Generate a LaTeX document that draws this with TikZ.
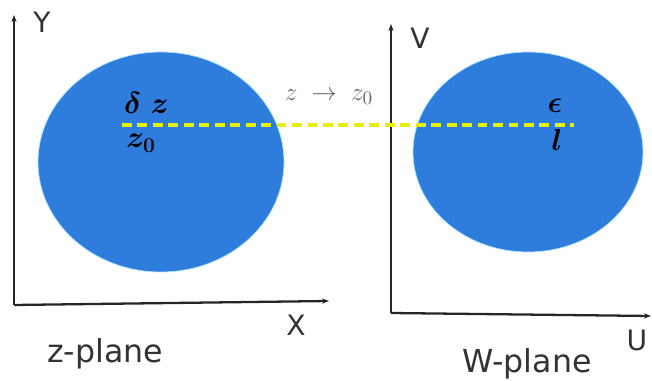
\documentclass[tikz,border=0pt]{standalone}
\usepackage{amsmath}
\usepackage{bm}
\usepackage{fontspec}
\newfontfamily\labelfont{DejaVu Sans}
\usepackage{tikz}
\usetikzlibrary{shapes.geometric,arrows.meta,positioning}

\definecolor{discblue}{HTML}{2E7CDC}
\definecolor{dashyellow}{HTML}{E2F00A}

\begin{document}
\begin{tikzpicture}[
  x=0.02cm, y=-0.02cm,
  disc/.style     = {ellipse, fill=discblue, draw=cyan!35, line width=0.4pt, inner sep=0pt},
  axis/.style     = {-{Stealth[length=4pt,width=3pt]}, line width=1.3pt, black!85},
  axlabel/.style  = {font=\labelfont\fontsize{16}{16}\selectfont, text=black!80},
  planelabel/.style = {font=\labelfont\fontsize{18}{18}\selectfont, text=black!80},
  mathlabel/.style  = {font=\fontsize{18}{18}\selectfont, text=black},
  link/.style     = {dashyellow, line width=2pt, dash pattern=on 5.6pt off 3.2pt}
]
\useasboundingbox (0,0) rectangle (652,381);

% z-plane
\coordinate (zO) at (14,305);
\coordinate (zY) at (14,15);
\coordinate (zX) at (329,301);
\draw[axis] (zO) -- (zY);
\draw[axis] (zO) -- (zX);
\node[axlabel]    (ylab) at (42,22)   {Y};
\node[axlabel]    (xlab) at (296,325) {X};
\node[planelabel] (zpl)  at (105,354) {z-plane};
\node[disc, minimum width=4.92cm, minimum height=4.4cm] (zdisc) at (161,162) {};

% W-plane
\coordinate (wO) at (391,313);
\coordinate (wV) at (391,24);
\coordinate (wU) at (651,316);
\draw[axis] (wO) -- (wV);
\draw[axis] (wO) -- (wU);
\node[axlabel]    (vlab) at (420,38)  {V};
\node[axlabel]    (ulab) at (637,340) {U};
\node[planelabel] (wpl)  at (527,364) {W-plane};
\node[disc, minimum width=4.6cm, minimum height=4.0cm] (wdisc) at (528,152) {};

% the segment and its labels
\coordinate (zpt) at (122,125);
\coordinate (wpt) at (574,125);
\draw[link] (zpt) -- (wpt);
\node[mathlabel, anchor=west] (dz)  at (118,103) {$\bm{\delta\ z}$};
\node[mathlabel, anchor=west] (z0)  at (120,143) {$\bm{z_0}$};
\node[font=\fontsize{15}{15}\selectfont, text=black!60] (lim) at (329,97) {$z\;\to\; z_0$};
\node[font=\fontsize{19}{19}\selectfont] (eps) at (555,106) {$\bm{\epsilon}$};
\node[mathlabel] (ell) at (557,140) {$\bm{l}$};
\end{tikzpicture}
\end{document}
